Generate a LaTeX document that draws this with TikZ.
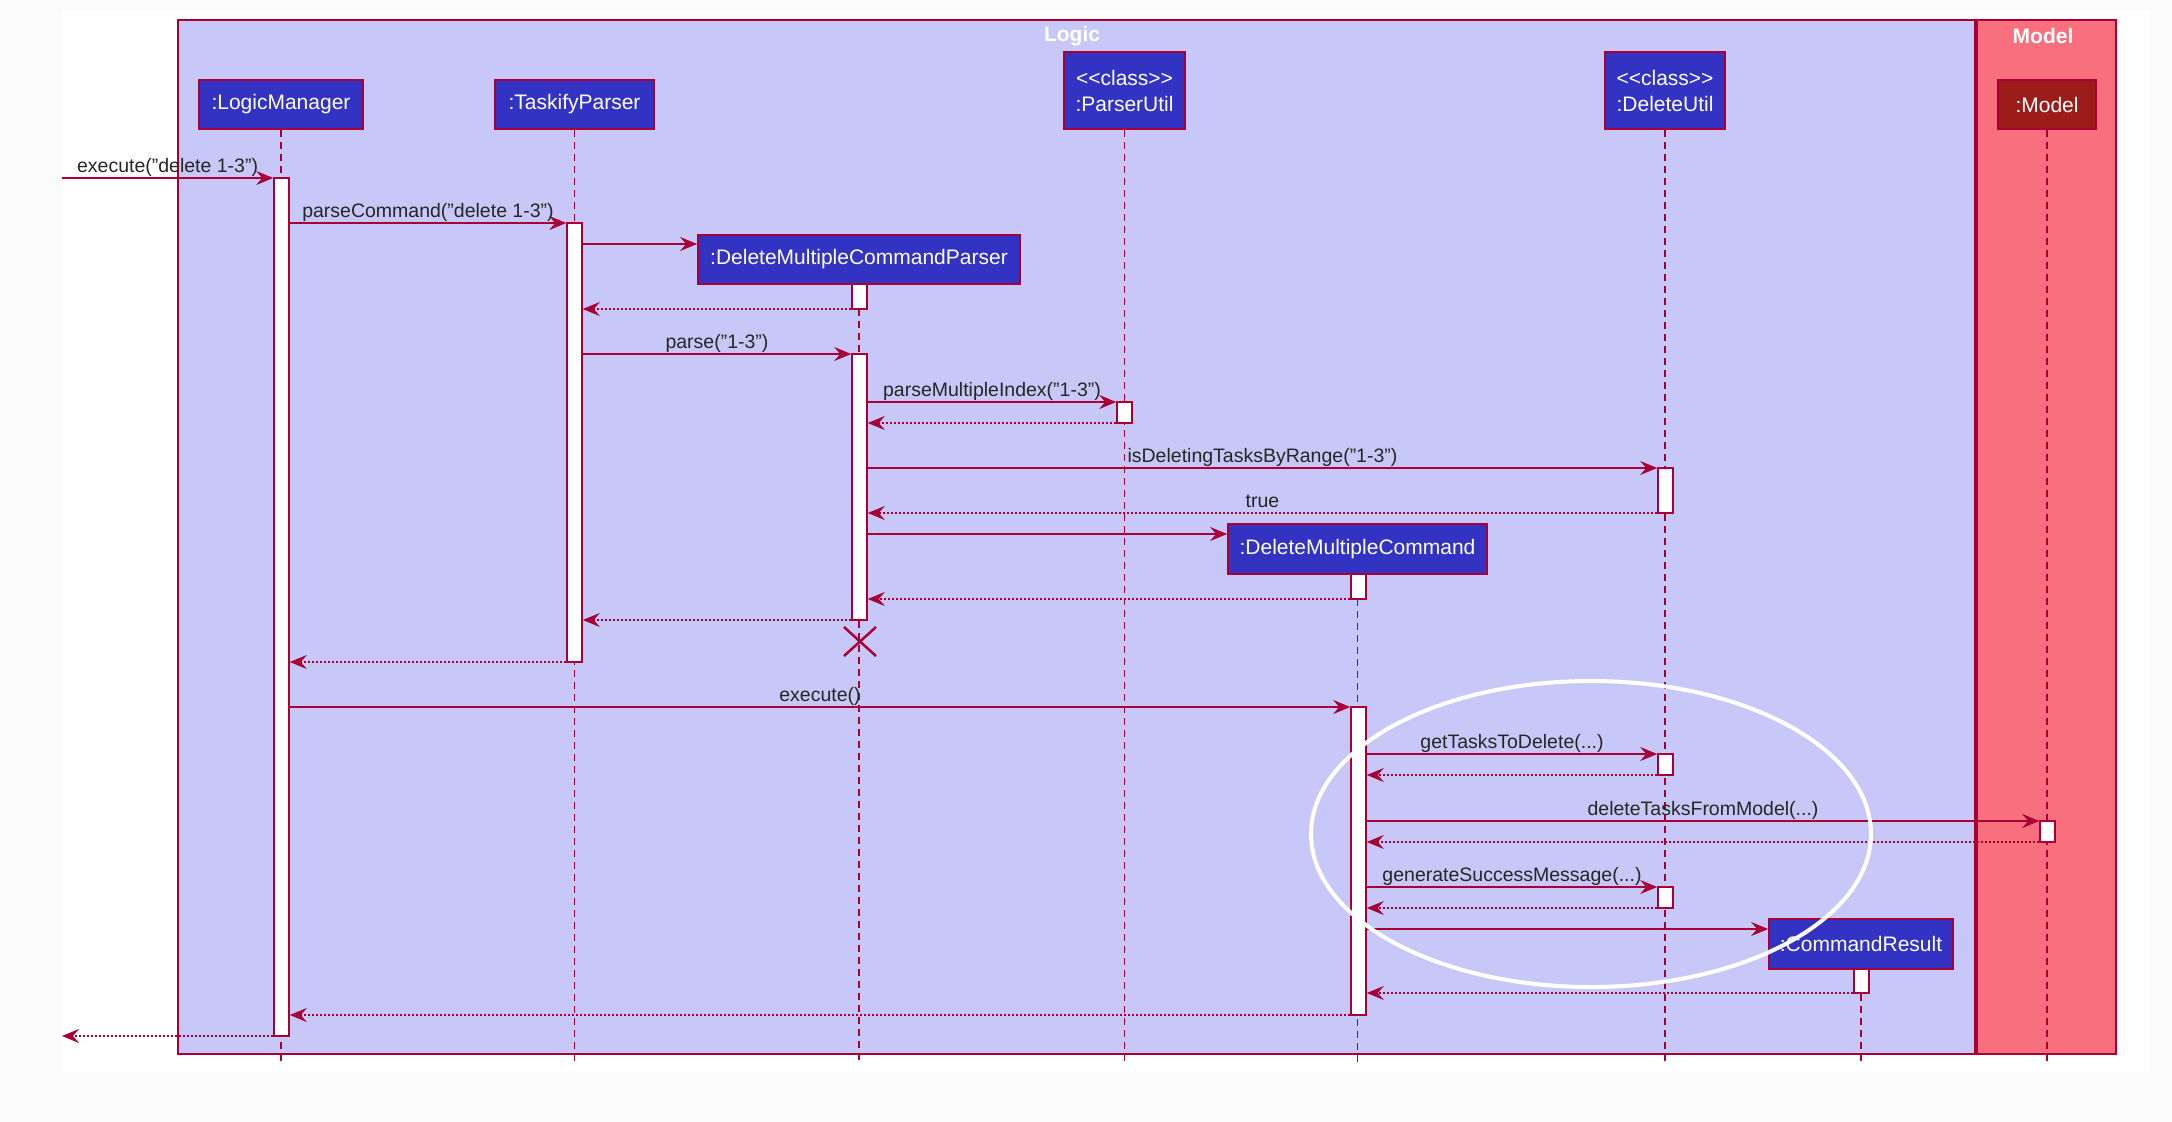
\documentclass[tikz,border=0pt]{standalone}
\usepackage{fontspec}
\setmainfont{Liberation Sans}
\usetikzlibrary{arrows.meta}
\definecolor{crim}{HTML}{A80036}
\definecolor{pblue}{HTML}{3232C3}
\definecolor{logicbg}{HTML}{C8C8F8}
\definecolor{modelbg}{HTML}{F8707E}
\definecolor{modelbox}{HTML}{9B1C18}
\definecolor{pagebg}{HTML}{FBFBFB}
\newcommand{\msgfont}{\fontsize{19.5}{22}\selectfont}
\newcommand{\partfont}{\fontsize{21}{26}\selectfont}
\newcommand{\actv}[5]{\node[act, minimum width={#4-#2}, minimum height={#5-#3}] (#1) at ({(#2+#4)/2},{(#3+#5)/2}) {};}
\tikzset{
  frm/.style={draw=crim, line width=2pt, inner sep=0pt},
  ttl/.style={text=white, font=\partfont\bfseries, inner sep=0pt},
  part/.style={draw=crim, fill=pblue, text=white, line width=1.8pt, inner sep=0pt, font=\partfont, align=center},
  life/.style={draw=crim, line width=1.5pt, dash pattern=on 7pt off 5pt},
  act/.style={draw=crim, fill=white, line width=1.6pt, inner sep=0pt},
  tip/.style={-{Stealth[length=17pt,width=14pt,inset=6pt]}},
  msg/.style={draw=crim, line width=1.6pt, tip},
  ret/.style={draw=crim, line width=1.6pt, dash pattern=on 2pt off 2pt, tip},
  lbl/.style={midway, anchor=base, yshift=6pt, inner sep=0pt, text=black!85, font=\msgfont},
}
\begin{document}
\begin{tikzpicture}[x=1pt,y=-1pt]
\useasboundingbox (0,0) rectangle (2172,1122);
\fill[pagebg] (0,0) rectangle (2172,1122);
\fill[white] (62,10) rectangle (2150,1072);

% frames
\node[frm, fill=logicbg, minimum width=1797, minimum height=1034] (logic) at (1076.5,537) {};
\node[frm, fill=modelbg, minimum width=139, minimum height=1034] (model) at (2046.5,537) {};
\node[ttl] (logicT) at (1072,36) {Logic};
\node[ttl] (modelT) at (2043,36) {Model};

% participants
\node[part, minimum width=164, minimum height=49] (lm) at (281,104.5) {:LogicManager};
\node[part, minimum width=159, minimum height=49] (tp) at (574.5,104.5) {:TaskifyParser};
\node[part, minimum width=121, minimum height=77] (pu) at (1124.5,90.5) {{<}{<}class{>}{>}\\:ParserUtil};
\node[part, minimum width=120, minimum height=77] (du) at (1665,90.5) {{<}{<}class{>}{>}\\:DeleteUtil};
\node[part, fill=modelbox, minimum width=98, minimum height=49] (md) at (2047,104.5) {:Model};
\node[part, minimum width=322, minimum height=49] (dmcp) at (859,259.5) {:DeleteMultipleCommandParser};
\node[part, minimum width=259, minimum height=50] (dmc) at (1357.5,549) {:DeleteMultipleCommand};
\node[part, minimum width=184, minimum height=50] (cr) at (1861,944) {:CommandResult};

% lifelines
\foreach \p in {lm,tp,pu,du,md,dmcp,dmc,cr}{
  \draw[life] (\p.south) -- (\p.south |- 0,1063);
}

% activations
\actv{lmA}{274}{178}{289}{1036}
\actv{tpA}{567}{223}{582}{662}
\actv{dmcpA1}{852}{284}{867}{309}
\actv{dmcpA2}{852}{354}{867}{620}
\actv{puA}{1117}{402}{1132}{423}
\actv{duA1}{1658}{468}{1673}{513}
\actv{dmcA1}{1351}{574}{1366}{599}
\actv{dmcA2}{1351}{707}{1366}{1015}
\actv{duA2}{1658}{754}{1673}{775}
\actv{mdA}{2040}{821}{2055}{842}
\actv{duA3}{1658}{887}{1673}{908}
\actv{crA}{1854}{969}{1869}{993}

\coordinate (extIn) at (62,178);
\coordinate (extOut) at (62,1036);

% messages
\draw[msg] (extIn) -- (lmA.west |- extIn) node[lbl] {execute("delete 1-3")};
\draw[msg] (lmA.east |- 0,223) -- (tpA.west |- 0,223) node[lbl] {parseCommand("delete 1-3")};
\draw[msg] (tpA.east |- 0,244) -- (dmcp.west |- 0,244);
\draw[ret] (dmcpA1.west |- 0,309) -- (tpA.east |- 0,309);
\draw[msg] (tpA.east |- 0,354) -- (dmcpA2.west |- 0,354) node[lbl] {parse("1-3")};
\draw[msg] (dmcpA2.east |- 0,402) -- (puA.west |- 0,402) node[lbl] {parseMultipleIndex("1-3")};
\draw[ret] (puA.west |- 0,423) -- (dmcpA2.east |- 0,423);
\draw[msg] (dmcpA2.east |- 0,468) -- (duA1.west |- 0,468) node[lbl] {isDeletingTasksByRange("1-3")};
\draw[ret] (duA1.west |- 0,513) -- (dmcpA2.east |- 0,513) node[lbl] {true};
\draw[msg] (dmcpA2.east |- 0,534) -- (dmc.west |- 0,534);
\draw[ret] (dmcA1.west |- 0,599) -- (dmcpA2.east |- 0,599);
\draw[ret] (dmcpA2.west |- 0,620) -- (tpA.east |- 0,620);
\draw[ret] (tpA.west |- 0,662) -- (lmA.east |- 0,662);
\draw[msg] (lmA.east |- 0,707) -- (dmcA2.west |- 0,707) node[lbl] {execute()};
\draw[msg] (dmcA2.east |- 0,754) -- (duA2.west |- 0,754) node[lbl] {getTasksToDelete(...)};
\draw[ret] (duA2.west |- 0,775) -- (dmcA2.east |- 0,775);
\draw[msg] (dmcA2.east |- 0,821) -- (mdA.west |- 0,821) node[lbl] {deleteTasksFromModel(...)};
\draw[ret] (mdA.west |- 0,842) -- (dmcA2.east |- 0,842);
\draw[msg] (dmcA2.east |- 0,887) -- (duA3.west |- 0,887) node[lbl] {generateSuccessMessage(...)};
\draw[ret] (duA3.west |- 0,908) -- (dmcA2.east |- 0,908);
\draw[msg] (dmcA2.east |- 0,929) -- (cr.west |- 0,929);
\draw[ret] (crA.west |- 0,993) -- (dmcA2.east |- 0,993);
\draw[ret] (dmcA2.west |- 0,1015) -- (lmA.east |- 0,1015);
\draw[ret] (lmA.west |- extOut) -- (extOut);

% destruction mark
\draw[crim, line width=2.5pt] (844,627) -- (876,656) (844,656) -- (876,627);

% highlight ellipse
\draw[white, line width=4pt] (1591,834) ellipse [x radius=280, y radius=153];
\end{tikzpicture}
\end{document}
